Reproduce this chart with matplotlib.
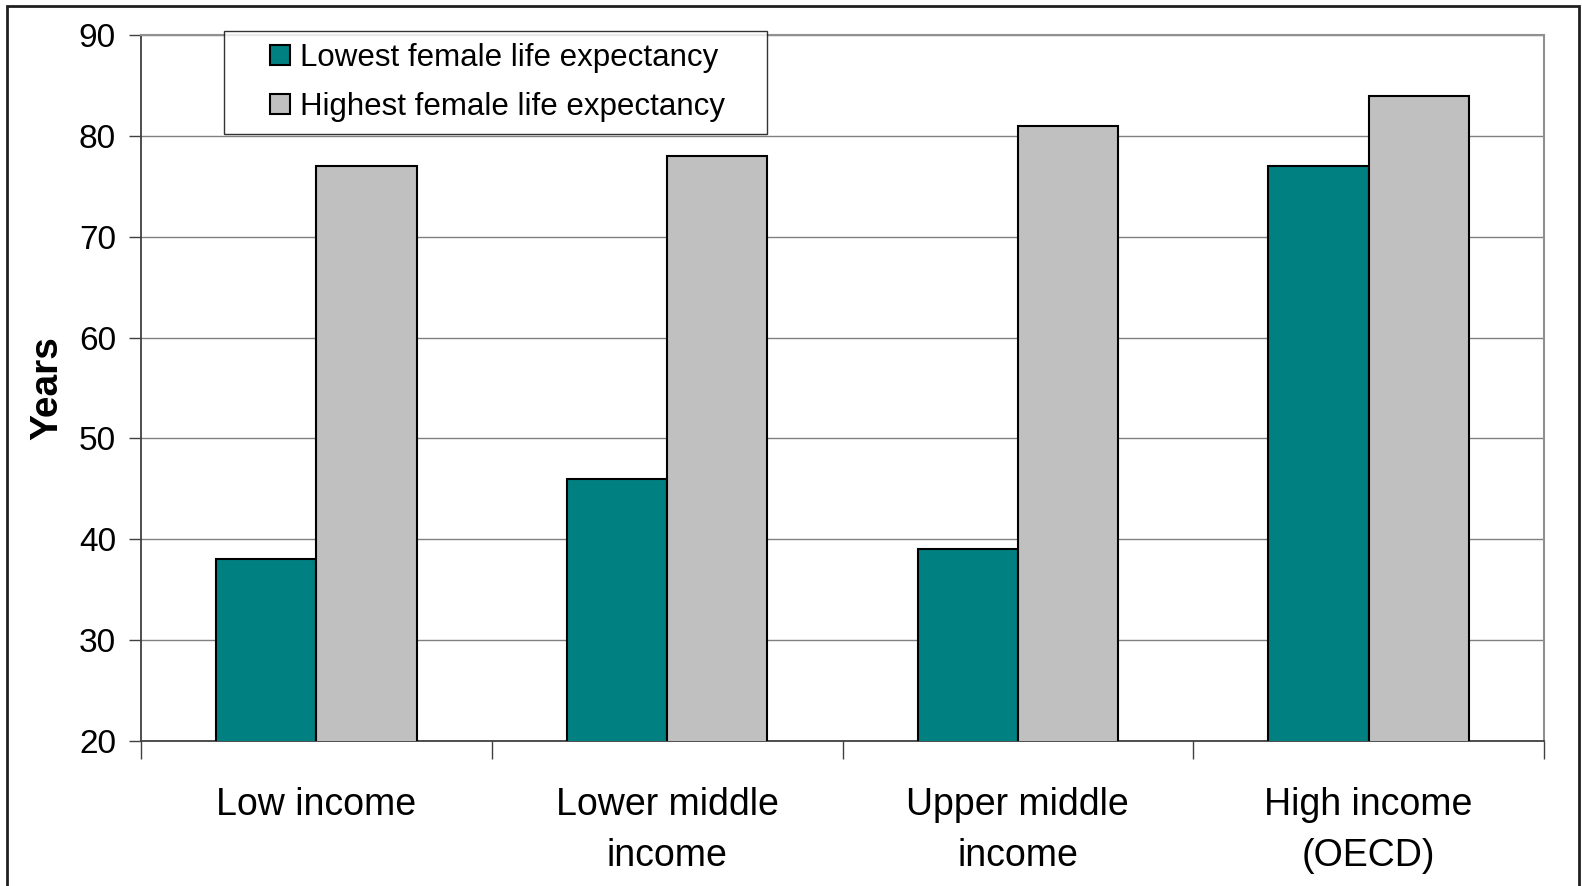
import matplotlib.pyplot as plt
import numpy as np
from matplotlib.patches import Rectangle
from matplotlib.lines import Line2D

plt.rcParams['font.family'] = ['Liberation Sans', 'DejaVu Sans']

categories = ['Low income', 'Lower middle\nincome', 'Upper middle\nincome', 'High income\n(OECD)']
lowest = [38, 46, 39, 77]
highest = [77, 78, 81, 84]
series_names = ['Lowest female life expectancy', 'Highest female life expectancy']
colors = ['#008080', '#c0c0c0']
yticks = [20, 30, 40, 50, 60, 70, 80, 90]

fig = plt.figure(figsize=(15.82, 8.86), dpi=100)
ax = fig.add_axes([141 / 1582, 1 - 741 / 886, (1544 - 141) / 1582, (741 - 35) / 886])

x = np.arange(len(categories))
w = 0.286
ax.bar(x - w / 2, lowest, w, color=colors[0], edgecolor='black', linewidth=1.5, zorder=3)
ax.bar(x + w / 2, highest, w, color=colors[1], edgecolor='black', linewidth=1.5, zorder=3)

ax.set_ylim(20, 90)
ax.set_xlim(-0.5, len(categories) - 0.5)
ax.set_yticks(yticks)
ax.tick_params(axis='y', labelsize=24, length=9, width=1, color='#404040', pad=9)
ax.yaxis.grid(True, color='#808080', linewidth=1, zorder=0)

# category boundary ticks below the axis, labels centred on groups
ax.set_xticks(np.arange(-0.5, len(categories)))
ax.set_xticklabels([])
ax.tick_params(axis='x', length=13, width=1, color='#404040')
ax.set_xticks(x, minor=True)
ax.set_xticklabels(categories, minor=True, fontsize=27, linespacing=1.55)
ax.tick_params(axis='x', which='minor', length=0, pad=33)

for s in ['left', 'bottom']:
    ax.spines[s].set_color('#404040')
    ax.spines[s].set_linewidth(1.3)
for s in ['top', 'right']:
    ax.spines[s].set_color('#909090')
    ax.spines[s].set_linewidth(1.5)

ax.set_ylabel('Years', fontsize=28, fontweight='bold', labelpad=10)

handles = [Line2D([], [], linestyle='none', marker='s', markersize=14,
                  markerfacecolor=c, markeredgecolor='black', markeredgewidth=1.5)
           for c in colors]
x0, y1 = 224 / 1582, 1 - 31 / 886
x1, y0 = 767 / 1582, 1 - 131 / 886
leg = fig.legend(handles, series_names, loc='upper left',
                 bbox_to_anchor=(x0, y0, x1 - x0, y1 - y0), mode='expand',
                 fontsize=22.5, frameon=True, fancybox=False,
                 handlelength=2.85, handletextpad=-0.8,
                 borderpad=0.38, labelspacing=0.62, borderaxespad=0)
leg.get_frame().set_edgecolor('black')
leg.get_frame().set_linewidth(1)

# outer frame around the whole chart
fig.patches.append(Rectangle((7 / 1582, -0.05), (1579 - 7) / 1582, 1.05 - 6 / 886,
                             transform=fig.transFigure, fill=False,
                             edgecolor='#202020', linewidth=2))

fig.savefig('out.png', dpi=100)
